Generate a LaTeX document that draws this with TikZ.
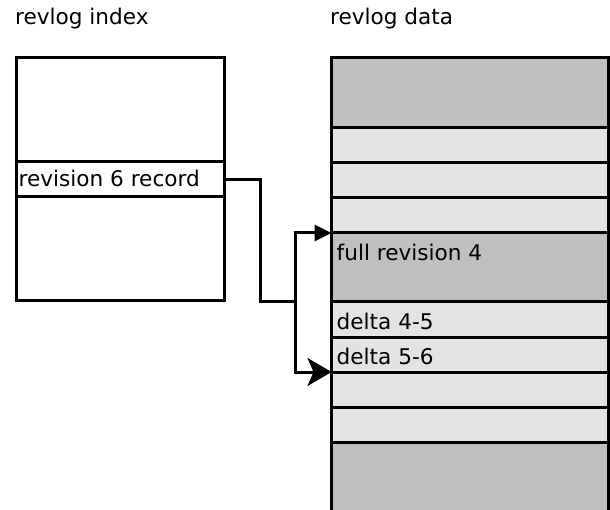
\documentclass[tikz,border=0pt]{standalone}
\usepackage{fontspec}
\setmainfont{DejaVu Sans}
\usetikzlibrary{arrows.meta}
\definecolor{blockdark}{RGB}{191,191,191}
\definecolor{blocklight}{RGB}{227,227,227}
\begin{document}
\begin{tikzpicture}[x=1pt,y=-1pt,
  cell/.style={draw, line width=3pt, outer sep=0pt, inner sep=0pt, anchor=north west},
  idxcell/.style={cell, fill=white, minimum width=208pt},
  datacell/.style={cell, minimum width=277pt},
  lbl/.style={font=\fontsize{21.6}{25}\selectfont, inner sep=0pt, anchor=base west},
  wire/.style={line width=3pt}]
\useasboundingbox (0,0) rectangle (610,510);

% titles
\node[lbl] (tindex) at (15,25) {revlog index};
\node[lbl] (tdata) at (330,25) {revlog data};

% index file
\node[idxcell, minimum height=104pt] (i0) at (16,58) {};
\node[idxcell, minimum height=35pt] (rec) at (16,162) {};
\node[idxcell, minimum height=104pt] (i2) at (16,197) {};
\node[lbl] (trec) at (18.5,187) {revision 6 record};

% data file
\node[datacell, fill=blockdark, minimum height=70pt] (d0) at (331.5,58) {};
\node[datacell, fill=blocklight, minimum height=35pt] (d1) at (331.5,128) {};
\node[datacell, fill=blocklight, minimum height=35pt] (d2) at (331.5,163) {};
\node[datacell, fill=blocklight, minimum height=35pt] (d3) at (331.5,198) {};
\node[datacell, fill=blockdark, minimum height=69pt] (full) at (331.5,233) {};
\node[datacell, fill=blocklight, minimum height=35.5pt] (d45) at (331.5,302) {};
\node[datacell, fill=blocklight, minimum height=34.5pt] (d56) at (331.5,337.5) {};
\node[datacell, fill=blocklight, minimum height=35pt] (d7) at (331.5,372) {};
\node[datacell, fill=blocklight, minimum height=35pt] (d8) at (331.5,407) {};
\node[datacell, fill=blockdark, minimum height=73pt] (d9) at (331.5,442) {};

\node[lbl] (tfull) at (336.5,261) {full revision 4};
\node[lbl] (t45) at (336.5,330) {delta 4-5};
\node[lbl] (t56) at (336.5,364) {delta 5-6};

% pointer from the index record into the data file
\coordinate (bend) at (260,302);
\coordinate (fork) at (295,302);
\draw[wire] (rec.east) -| (bend) -- (fork);
\draw[wire, -{Triangle[length=17pt,width=16pt]}] (fork) |- (full.north west);
\draw[wire, -{Stealth[length=24pt,width=28pt,inset=6pt]}] (fork) |- (d56.south west);
\end{tikzpicture}
\end{document}
